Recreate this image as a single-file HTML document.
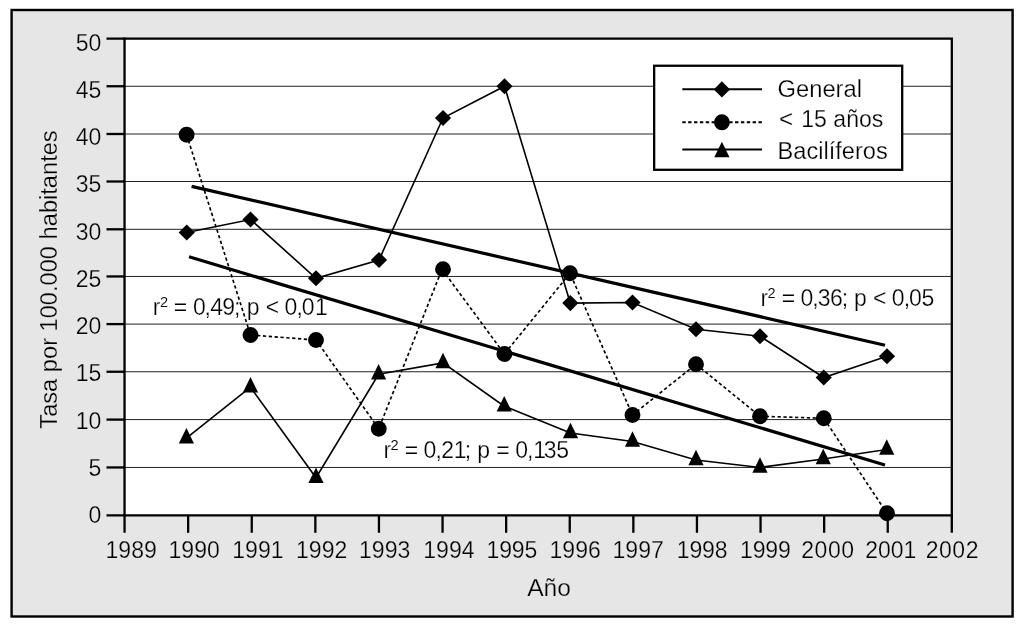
<!DOCTYPE html>
<html><head><meta charset="utf-8"><title>Chart</title>
<style>
html,body{margin:0;padding:0;background:#fff;}
body{width:1024px;height:626px;overflow:hidden;font-family:"Liberation Sans",sans-serif;}
svg{display:block;will-change:transform;filter:blur(0.4px);}
text{font-family:"Liberation Sans",sans-serif;font-size:23px;fill:#000;}
.t{stroke:#e6e6e6;stroke-width:0.25px;}
.w{stroke:#fff;stroke-width:0.25px;}
text.s{font-size:14.6px;stroke-width:0.1px;}
</style></head><body>
<svg width="1024" height="626" viewBox="0 0 1024 626">
<rect x="0" y="0" width="1024" height="626" fill="#fff"/>
<rect x="11.6" y="10" width="1001" height="606.5" fill="#e6e6e6" stroke="#000" stroke-width="2.4"/>
<rect x="124.55" y="38.6" width="827.25" height="476.7" fill="#fff"/>

<g stroke="#222" stroke-width="1" shape-rendering="auto">
<line x1="125" x2="952" y1="467.45" y2="467.45"/>
<line x1="125" x2="952" y1="419.60" y2="419.60"/>
<line x1="125" x2="952" y1="371.75" y2="371.75"/>
<line x1="125" x2="952" y1="324.10" y2="324.10"/>
<line x1="125" x2="952" y1="276.45" y2="276.45"/>
<line x1="125" x2="952" y1="229.30" y2="229.30"/>
<line x1="125" x2="952" y1="181.50" y2="181.50"/>
<line x1="125" x2="952" y1="134.00" y2="134.00"/>
<line x1="125" x2="952" y1="86.25" y2="86.25"/>
</g>
<g stroke="#000" stroke-width="2.3" fill="none" stroke-linecap="butt">
<path d="M106.5,38.55 H951.8 V532.8"/>
<path d="M124.55,37.4 V532.8"/>
<path d="M106.5,515.35 H952.95"/>
<line x1="106.5" x2="124.55" y1="467.45" y2="467.45"/>
<line x1="106.5" x2="124.55" y1="419.60" y2="419.60"/>
<line x1="106.5" x2="124.55" y1="371.75" y2="371.75"/>
<line x1="106.5" x2="124.55" y1="324.10" y2="324.10"/>
<line x1="106.5" x2="124.55" y1="276.45" y2="276.45"/>
<line x1="106.5" x2="124.55" y1="229.30" y2="229.30"/>
<line x1="106.5" x2="124.55" y1="181.50" y2="181.50"/>
<line x1="106.5" x2="124.55" y1="134.00" y2="134.00"/>
<line x1="106.5" x2="124.55" y1="86.25" y2="86.25"/>
<line x1="188.15" x2="188.15" y1="515.35" y2="532.8"/>
<line x1="251.75" x2="251.75" y1="515.35" y2="532.8"/>
<line x1="315.35" x2="315.35" y1="515.35" y2="532.8"/>
<line x1="378.95" x2="378.95" y1="515.35" y2="532.8"/>
<line x1="442.55" x2="442.55" y1="515.35" y2="532.8"/>
<line x1="506.15" x2="506.15" y1="515.35" y2="532.8"/>
<line x1="569.75" x2="569.75" y1="515.35" y2="532.8"/>
<line x1="633.35" x2="633.35" y1="515.35" y2="532.8"/>
<line x1="696.95" x2="696.95" y1="515.35" y2="532.8"/>
<line x1="760.55" x2="760.55" y1="515.35" y2="532.8"/>
<line x1="824.15" x2="824.15" y1="515.35" y2="532.8"/>
<line x1="887.75" x2="887.75" y1="515.35" y2="532.8"/>
</g>
<text class="t" x="101.3" y="523.10" text-anchor="end">0</text>
<text class="t" x="101.3" y="475.86" text-anchor="end">5</text>
<text class="t" x="101.3" y="428.62" text-anchor="end">10</text>
<text class="t" x="101.3" y="381.38" text-anchor="end">15</text>
<text class="t" x="101.3" y="334.14" text-anchor="end">20</text>
<text class="t" x="101.3" y="286.90" text-anchor="end">25</text>
<text class="t" x="101.3" y="239.66" text-anchor="end">30</text>
<text class="t" x="101.3" y="192.42" text-anchor="end">35</text>
<text class="t" x="101.3" y="145.18" text-anchor="end">40</text>
<text class="t" x="101.3" y="97.94" text-anchor="end">45</text>
<text class="t" x="101.3" y="50.70" text-anchor="end">50</text>
<text class="t" x="105.55" y="557.6">1989</text>
<text class="t" x="168.55" y="557.6">1990</text>
<text class="t" x="232.30" y="557.6">1991</text>
<text class="t" x="296.05" y="557.6">1992</text>
<text class="t" x="359.05" y="557.6">1993</text>
<text class="t" x="423.30" y="557.6">1994</text>
<text class="t" x="486.55" y="557.6" letter-spacing="-0.15">1995</text>
<text class="t" x="549.55" y="557.6">1996</text>
<text class="t" x="612.55" y="557.6">1997</text>
<text class="t" x="676.80" y="557.6" letter-spacing="-0.15">1998</text>
<text class="t" x="740.05" y="557.6" letter-spacing="-0.15">1999</text>
<text class="t" x="801.24" y="557.6" letter-spacing="0.55">2000</text>
<text class="t" x="865.14" y="557.6">2001</text>
<text class="t" x="925.64" y="557.6" letter-spacing="0.55">2002</text>
<text class="t" x="549.1" y="595.5" text-anchor="middle" style="font-size:24.6px">Año</text>
<text class="t" transform="translate(57,279.5) rotate(-90)" text-anchor="middle" style="font-size:23.65px">Tasa por 100.000 habitantes</text>
<g stroke="#000" stroke-width="3.2" stroke-linecap="butt">
<line x1="191.6" y1="186.4" x2="885" y2="345.2"/>
<line x1="189" y1="256.8" x2="885" y2="465"/>
</g>
<polyline points="186.75,232.50 250.50,219.50 316.00,278.25 379.00,260.00 443.00,118.00 504.50,86.25 570.30,303.10 632.50,302.50 696.00,329.25 760.00,336.25 823.75,377.50 887.00,356.25" fill="none" stroke="#000" stroke-width="1.6"/>
<polyline points="186.40,438.15 250.50,387.20 316.00,477.70 378.60,374.25 443.00,362.95 504.25,406.20 570.50,432.95 632.50,441.45 696.00,459.95 760.00,467.45 823.25,458.95 886.75,449.45" fill="none" stroke="#000" stroke-width="1.6"/>
<polyline points="186.60,134.70 250.50,335.00 316.00,340.00 378.75,428.75 442.00,269.25 504.40,354.00 570.00,273.25 632.50,415.00 696.00,364.25 760.00,416.25 823.75,418.25 887.00,513.25" fill="none" stroke="#000" stroke-width="1.65" stroke-dasharray="3.3 2.56"/>
<g fill="#000">
<path d="M178.65,232.50 L186.75,224.40 L194.85,232.50 L186.75,240.60 Z"/>
<path d="M242.40,219.50 L250.50,211.40 L258.60,219.50 L250.50,227.60 Z"/>
<path d="M307.90,278.25 L316.00,270.15 L324.10,278.25 L316.00,286.35 Z"/>
<path d="M370.90,260.00 L379.00,251.90 L387.10,260.00 L379.00,268.10 Z"/>
<path d="M434.90,118.00 L443.00,109.90 L451.10,118.00 L443.00,126.10 Z"/>
<path d="M496.40,86.25 L504.50,78.15 L512.60,86.25 L504.50,94.35 Z"/>
<path d="M562.20,303.10 L570.30,295.00 L578.40,303.10 L570.30,311.20 Z"/>
<path d="M624.40,302.50 L632.50,294.40 L640.60,302.50 L632.50,310.60 Z"/>
<path d="M687.90,329.25 L696.00,321.15 L704.10,329.25 L696.00,337.35 Z"/>
<path d="M751.90,336.25 L760.00,328.15 L768.10,336.25 L760.00,344.35 Z"/>
<path d="M815.65,377.50 L823.75,369.40 L831.85,377.50 L823.75,385.60 Z"/>
<path d="M878.90,356.25 L887.00,348.15 L895.10,356.25 L887.00,364.35 Z"/>
<circle cx="186.60" cy="134.70" r="7.95"/>
<circle cx="250.50" cy="335.00" r="7.95"/>
<circle cx="316.00" cy="340.00" r="7.95"/>
<circle cx="378.75" cy="428.75" r="7.95"/>
<circle cx="443.00" cy="269.25" r="7.95"/>
<circle cx="504.40" cy="354.00" r="7.95"/>
<circle cx="570.00" cy="273.25" r="7.95"/>
<circle cx="632.50" cy="415.00" r="7.95"/>
<circle cx="696.00" cy="364.25" r="7.95"/>
<circle cx="760.00" cy="416.25" r="7.95"/>
<circle cx="823.75" cy="418.25" r="7.95"/>
<circle cx="887.00" cy="513.25" r="7.95"/>
<path d="M186.40,427.90 L194.00,443.50 L178.80,443.50 Z"/>
<path d="M250.50,376.95 L258.10,392.55 L242.90,392.55 Z"/>
<path d="M316.00,467.45 L323.60,483.05 L308.40,483.05 Z"/>
<path d="M378.60,364.00 L386.20,379.60 L371.00,379.60 Z"/>
<path d="M443.00,352.70 L450.60,368.30 L435.40,368.30 Z"/>
<path d="M504.25,395.95 L511.85,411.55 L496.65,411.55 Z"/>
<path d="M570.50,422.70 L578.10,438.30 L562.90,438.30 Z"/>
<path d="M632.50,431.20 L640.10,446.80 L624.90,446.80 Z"/>
<path d="M696.00,449.70 L703.60,465.30 L688.40,465.30 Z"/>
<path d="M760.00,457.20 L767.60,472.80 L752.40,472.80 Z"/>
<path d="M823.25,448.70 L830.85,464.30 L815.65,464.30 Z"/>
<path d="M886.75,439.20 L894.35,454.80 L879.15,454.80 Z"/>
</g>
<text class="w" x="152.85 173.79 192.90 204.61 210.33 222.21 233.96 246.79 265.73 284.50 296.41 301.70 315.05" y="314.9">r=0,49;p&lt;0,01</text><text class="w s" x="159.99" y="307.30">2</text>
<text class="w" x="383.55 404.69 423.60 435.41 441.25 453.75 464.71 477.14 496.19 515.15 527.11 533.35 543.77 556.18" y="457.5">r=0,21;p=0,135</text><text class="w s" x="390.59" y="449.90">2</text>
<text class="w" x="760.50 781.64 800.55 812.36 817.77 829.93 841.66 854.09 873.03 891.80 903.81 909.10 921.38" y="306.0">r=0,36;p&lt;0,05</text><text class="w s" x="767.54" y="298.40">2</text>
<rect x="654.15" y="65.75" width="248.05" height="104.05" fill="#fff" stroke="#000" stroke-width="2.3"/>
<g stroke="#000" stroke-width="2.1">
<line x1="682.3" x2="762" y1="89.3" y2="89.3"/>
<line x1="682.3" x2="762" y1="122.3" y2="122.3" stroke-dasharray="3.4 2.46"/>
<line x1="682.3" x2="762" y1="149.5" y2="149.5"/>
</g><g fill="#000">
<path d="M713.80,89.40 L721.90,81.30 L730.00,89.40 L721.90,97.50 Z"/>
<circle cx="721.90" cy="122.30" r="7.95"/>
<path d="M721.90,141.70 L729.50,157.30 L714.30,157.30 Z"/>
</g>
<text class="w" x="777.5" y="96.9" style="font-size:24.4px" textLength="84.5" lengthAdjust="spacingAndGlyphs">General</text>
<text class="w" x="779" y="127.1" style="font-size:24.4px">&lt;</text><text class="w" x="801.3" y="127.1" style="font-size:24.4px" textLength="82" lengthAdjust="spacingAndGlyphs">15 años</text>
<text class="w" x="777.5" y="159.3" style="font-size:24.4px" textLength="110.3" lengthAdjust="spacingAndGlyphs">Bacilíferos</text>
</svg></body></html>
